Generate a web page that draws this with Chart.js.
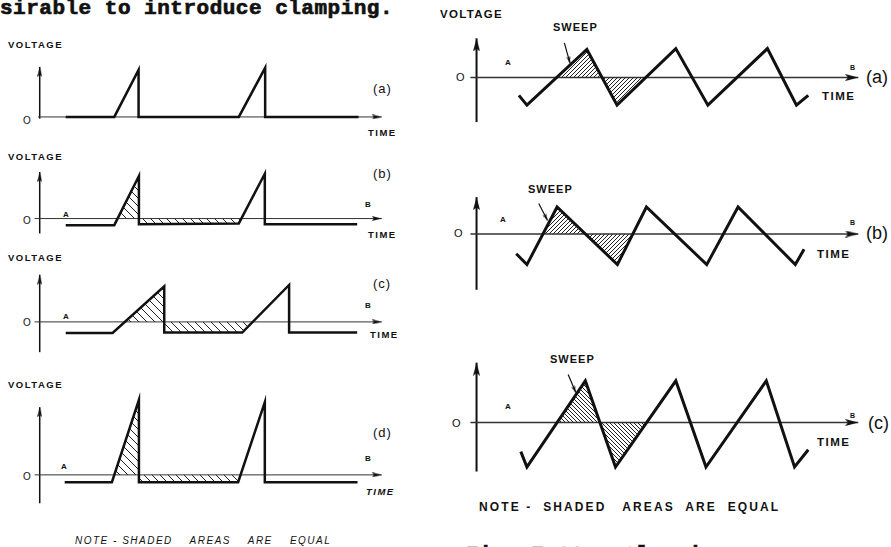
<!DOCTYPE html>
<html lang="en">
<head>
<meta charset="UTF-8">
<title>Clamping of sweep waveforms</title>
<script src="https://cdn.jsdelivr.net/npm/chart.js"></script>
<style>
  html, body { margin: 0; padding: 0; background: #fff; }
  body { width: 891px; height: 547px; position: relative; overflow: hidden; color: #111;
         font-family: "Liberation Sans", Arial, sans-serif; }
  canvas { position: absolute; }
  .l { position: absolute; white-space: pre; line-height: 1; transform: translateY(-50%); }
  .head { position: absolute; white-space: pre; line-height: 1; font: bold 21px "Liberation Mono", monospace;
          letter-spacing: 0.5px; -webkit-text-stroke: 0.7px #111; }
  .vl { font-weight: bold; font-size: 9.5px; letter-spacing: 1.5px; }
  .tl { font-weight: bold; font-size: 9.5px; letter-spacing: 1.5px; }
  .vr { font-weight: bold; font-size: 11.5px; letter-spacing: 1.3px; }
  .tr { font-weight: bold; font-size: 11.5px; letter-spacing: 1.5px; }
  .sw { font-weight: bold; font-size: 11px; letter-spacing: 1px; }
  .ab { font-weight: bold; font-size: 8px; }
  .o  { font-size: 10px; }
  .or { font-size: 11px; }
  .pl { font-size: 13px; letter-spacing: 1px; }
  .pr { font-size: 18px; }
  .nl { font-style: italic; font-size: 10px; letter-spacing: 1.5px; }
  .nr { font-weight: bold; font-size: 12px; letter-spacing: 2.1px; }
</style>
</head>
<body>
<div class="head" style="left:0;top:-3px">sirable to introduce clamping.</div>

<!-- left column labels -->
<div class="l vl" style="left:8px;top:45px">VOLTAGE</div>
<div class="l o" style="left:23px;top:121px">O</div>
<div class="l pl" style="left:373px;top:88px">(a)</div>
<div class="l tl" style="left:368px;top:133px">TIME</div>

<div class="l vl" style="left:8px;top:157px">VOLTAGE</div>
<div class="l o" style="left:23px;top:221px">O</div>
<div class="l ab" style="left:63px;top:215px">A</div>
<div class="l ab" style="left:365px;top:205px">B</div>
<div class="l pl" style="left:373px;top:173px">(b)</div>
<div class="l tl" style="left:368px;top:235px">TIME</div>

<div class="l vl" style="left:8px;top:258px">VOLTAGE</div>
<div class="l o" style="left:23px;top:323px">O</div>
<div class="l ab" style="left:63px;top:317px">A</div>
<div class="l ab" style="left:365px;top:306px">B</div>
<div class="l pl" style="left:373px;top:283px">(c)</div>
<div class="l tl" style="left:370px;top:335px">TIME</div>

<div class="l vl" style="left:8px;top:385px">VOLTAGE</div>
<div class="l o" style="left:23px;top:477px">O</div>
<div class="l ab" style="left:61px;top:467px">A</div>
<div class="l ab" style="left:365px;top:459px">B</div>
<div class="l pl" style="left:373px;top:432px">(d)</div>
<div class="l tl" style="left:366px;top:492px;font-style:italic">TIME</div>

<div class="l nl" style="left:75px;top:541px">NOTE - SHADED    AREAS    ARE    EQUAL</div>

<!-- right column labels -->
<div class="l vr" style="left:440px;top:15px">VOLTAGE</div>
<div class="l sw" style="left:553px;top:27px">SWEEP</div>
<div class="l or" style="left:456px;top:77px">O</div>
<div class="l ab" style="left:505px;top:63px">A</div>
<div class="l ab" style="left:850px;top:67px;font-size:7px">B</div>
<div class="l pr" style="left:866px;top:77px">(a)</div>
<div class="l tr" style="left:822px;top:97px">TIME</div>

<div class="l sw" style="left:528px;top:189px">SWEEP</div>
<div class="l or" style="left:454px;top:233px">O</div>
<div class="l ab" style="left:500px;top:220px">A</div>
<div class="l ab" style="left:850px;top:222px;font-size:7px">B</div>
<div class="l pr" style="left:866px;top:233px">(b)</div>
<div class="l tr" style="left:817px;top:255px">TIME</div>

<div class="l sw" style="left:550px;top:359px">SWEEP</div>
<div class="l or" style="left:452px;top:423px">O</div>
<div class="l ab" style="left:505px;top:407px">A</div>
<div class="l ab" style="left:850px;top:415px;font-size:7px">B</div>
<div class="l pr" style="left:868px;top:423px">(c)</div>
<div class="l tr" style="left:817px;top:443px">TIME</div>

<div class="l nr" style="left:479px;top:507px">NOTE -  SHADED   AREAS  ARE  EQUAL</div>
<div class="head" style="left:466px;top:543px">Fig. 7.33.  Clamping</div>

<script>
// ---- waveform data (time in arbitrary units, axis arrow at 100; voltage in arbitrary units, 0 = zero line)
const axisEnd = 100;

// left column
const leftAT = [7.6, 21.8, 28.9, 28.9, 58.2, 65.9, 65.9, 93.2];
const leftAV = [0, 0, 10.7, 0, 0, 11.2, 0, 0];

const leftBT = [7.6, 21.8, 29.0, 29.0, 58.2, 65.8, 65.8, 92.8];
const leftBV = [-1.5, -1.5, 9.7, -1.3, -1.1, 10.2, -1.3, -1.3];
const leftBShadeT = [22.8, 29.0, 29.0, 58.2, 58.9];
const leftBShadeV = [0, 9.7, -1.3, -1.1, 0];

const leftCT = [7.6, 21.3, 36.4, 36.4, 59.2, 72.9, 72.9, 92.8];
const leftCV = [-2.5, -2.5, 8.0, -2.4, -2.4, 8.3, -2.4, -2.4];
const leftCShadeT = [24.9, 36.4, 36.4, 59.2, 62.3];
const leftCShadeV = [0, 8.0, -2.4, -2.4, 0];

const leftDT = [7.3, 21.1, 29.0, 29.0, 58.0, 65.8, 65.8, 92.9];
const leftDV = [-1.6, -1.6, 16.4, -1.6, -1.6, 15.9, -1.6, -1.6];
const leftDShadeT = [21.8, 29.0, 29.0, 58.0, 58.7];
const leftDShadeV = [0, 16.4, -1.6, -1.6, 0];

// right column
const rightAT = [11.1, 13.2, 28.9, 36.8, 52.2, 60.6, 76.2, 83.8, 86.9];
const rightAV = [-4.0, -6.2, 6.3, -6.2, 6.5, -6.2, 6.5, -6.2, -4.0];
const rightAShadeT = [20.9, 28.9, 32.8, 36.8, 44.7];
const rightAShadeV = [0, 6.3, 0, -6.2, 0];
const rightASweepT = [23.0, 24.5];
const rightASweepV = [7.8, 3.2];

const rightBT = [10.4, 13.2, 21.1, 36.9, 44.5, 60.3, 68.5, 83.5, 85.8];
const rightBV = [-4.4, -6.8, 6.0, -6.8, 6.0, -6.8, 6.0, -6.8, -3.4];
const rightBShadeT = [17.2, 21.1, 28.5, 36.9, 40.9];
const rightBShadeV = [0, 6.0, 0, -6.8, 0];
const rightBSweepT = [16.3, 18.6];
const rightBSweepV = [6.8, 3.0];

const rightCT = [11.6, 13.2, 28.5, 36.4, 52.2, 60.1, 75.9, 83.3, 86.9];
const rightCV = [-6.4, -9.8, 9.2, -9.8, 9.2, -9.8, 9.2, -9.8, -6.0];
const rightCShadeT = [21.1, 28.5, 32.3, 36.4, 44.5];
const rightCShadeV = [0, 9.2, 0, -9.8, 0];
const rightCSweepT = [24.0, 26.0];
const rightCSweepV = [10.6, 6.6];

// voltage axis extent [bottom, top] and where the time axis starts
const leftYAxis  = [[-0.4, 11.4], [-3.4, 10.6], [-6.8, 10.6], [-6.2, 14.8]];
const rightYAxis = [[-10, 8.8], [-12.4, 8.2], [-10.8, 13.2]];
const leftXStart = [-0.5, -1.5, -1.5, -1.5];
const rightXStart = -1.6;

// arrow head image, tip at image centre, pointing up
function arrowHead(w, h) {
  const c = document.createElement('canvas');
  c.width = w; c.height = h * 2;
  const g = c.getContext('2d');
  g.fillStyle = '#111';
  g.beginPath();
  g.moveTo(w / 2, h);
  g.lineTo(w, h * 2);
  g.lineTo(w / 2, h * 1.8);
  g.lineTo(0, h * 2);
  g.closePath();
  g.fill();
  return c;
}

function hatch(ctx, size, dir, width) {
  const c = document.createElement('canvas');
  c.width = size; c.height = size;
  const g = c.getContext('2d');
  g.strokeStyle = '#222';
  g.lineWidth = width;
  g.beginPath();
  for (let k = -1; k <= 1; k++) {
    if (dir === 'back') { g.moveTo(k * size, 0); g.lineTo(k * size + size, size); }
    else { g.moveTo(k * size, size); g.lineTo(k * size + size, 0); }
  }
  g.stroke();
  return ctx.createPattern(c, 'repeat');
}

const pts = (ts, vs) => ts.map((t, i) => ({ x: t, y: vs[i] }));

function panel(p) {
  const cv = document.createElement('canvas');
  cv.width = p.w; cv.height = p.h;
  cv.style.left = p.left + 'px';
  cv.style.top = p.top + 'px';
  document.body.appendChild(cv);
  const ctx = cv.getContext('2d');

  const headY = arrowHead(p.head[0], p.head[1]);
  const datasets = [
    { data: pts(p.t, p.v), borderColor: '#111', borderWidth: p.lw, pointRadius: 0,
      fill: false, borderJoinStyle: 'miter', borderCapStyle: 'butt' },
    { data: [{ x: p.xStart, y: 0 }, { x: axisEnd, y: 0 }], borderColor: '#333', borderWidth: p.zw,
      pointRadius: [0, 3], pointStyle: headY, pointRotation: 90, fill: false },
    { data: [{ x: 0, y: p.ya[0] }, { x: 0, y: p.ya[1] }], borderColor: '#111', borderWidth: p.yw,
      pointRadius: [0, 3], pointStyle: headY, pointRotation: 0, fill: false }
  ];
  if (p.st) {
    datasets.push({ data: pts(p.st, p.sv), borderColor: 'rgba(0,0,0,0)', borderWidth: 0, pointRadius: 0,
      fill: { value: 0 }, backgroundColor: hatch(ctx, p.hatch[0], p.hatch[1], p.hatch[2]) });
  }
  if (p.swt) {
    datasets.push({ data: pts(p.swt, p.swv), borderColor: '#111', borderWidth: 1.2, fill: false,
      pointRadius: [0, 3], pointStyle: arrowHead(4, 7),
      pointRotation: (c) => {
        const d = c.dataset.data, sx = c.chart.scales.x, sy = c.chart.scales.y;
        const dx = sx.getPixelForValue(d[1].x) - sx.getPixelForValue(d[0].x);
        const dy = sy.getPixelForValue(d[1].y) - sy.getPixelForValue(d[0].y);
        return Math.atan2(dx, -dy) * 180 / Math.PI;
      } });
  }

  new Chart(ctx, {
    type: 'line',
    data: { datasets: datasets },
    options: {
      responsive: false,
      animation: false,
      events: [],
      layout: { padding: 0 },
      elements: { line: { tension: 0 } },
      datasets: { line: { clip: false } },
      plugins: { legend: { display: false }, tooltip: { enabled: false } },
      scales: {
        x: { type: 'linear', min: p.x[0], max: p.x[1], display: false },
        y: { type: 'linear', min: p.y[0], max: p.y[1], display: false }
      }
    }
  });
}

// left column panels
panel({ left: 0, top: 50, w: 401, h: 90, x: [-10, 104], y: [-4, 14], t: leftAT, v: leftAV,
        ya: leftYAxis[0], xStart: leftXStart[0], lw: 2.5, zw: 1, yw: 1.5, head: [5, 10] });
panel({ left: 0, top: 156, w: 401, h: 90, x: [-10, 104], y: [-5, 13], t: leftBT, v: leftBV,
        st: leftBShadeT, sv: leftBShadeV, hatch: [8, 'back', 1],
        ya: leftYAxis[1], xStart: leftXStart[1], lw: 2.5, zw: 1, yw: 1.5, head: [5, 10] });
panel({ left: 0, top: 263, w: 401, h: 100, x: [-10, 104], y: [-8, 12], t: leftCT, v: leftCV,
        st: leftCShadeT, sv: leftCShadeV, hatch: [8, 'back', 1],
        ya: leftYAxis[2], xStart: leftXStart[2], lw: 2.5, zw: 1, yw: 1.5, head: [5, 10] });
panel({ left: 0, top: 387, w: 401, h: 130, x: [-10, 104], y: [-8, 18], t: leftDT, v: leftDV,
        st: leftDShadeT, sv: leftDShadeV, hatch: [8, 'back', 1],
        ya: leftYAxis[3], xStart: leftXStart[3], lw: 2.5, zw: 1, yw: 1.5, head: [5, 10] });

// right column panels
panel({ left: 440, top: 27, w: 451, h: 110, x: [-8, 107], y: [-12, 10], t: rightAT, v: rightAV,
        st: rightAShadeT, sv: rightAShadeV, hatch: [4, 'fwd', 1],
        swt: rightASweepT, swv: rightASweepV,
        ya: rightYAxis[0], xStart: rightXStart, lw: 3, zw: 1.6, yw: 2, head: [7, 13] });
panel({ left: 440, top: 183, w: 451, h: 120, x: [-8, 107], y: [-14, 10], t: rightBT, v: rightBV,
        st: rightBShadeT, sv: rightBShadeV, hatch: [4, 'fwd', 1],
        swt: rightBSweepT, swv: rightBSweepV,
        ya: rightYAxis[1], xStart: rightXStart, lw: 3, zw: 1.6, yw: 2, head: [7, 13] });
panel({ left: 440, top: 353, w: 451, h: 130, x: [-8, 107], y: [-12, 14], t: rightCT, v: rightCV,
        st: rightCShadeT, sv: rightCShadeV, hatch: [4, 'back', 1],
        swt: rightCSweepT, swv: rightCSweepV,
        ya: rightYAxis[2], xStart: rightXStart, lw: 3, zw: 1.6, yw: 2, head: [7, 13] });
</script>
</body>
</html>
